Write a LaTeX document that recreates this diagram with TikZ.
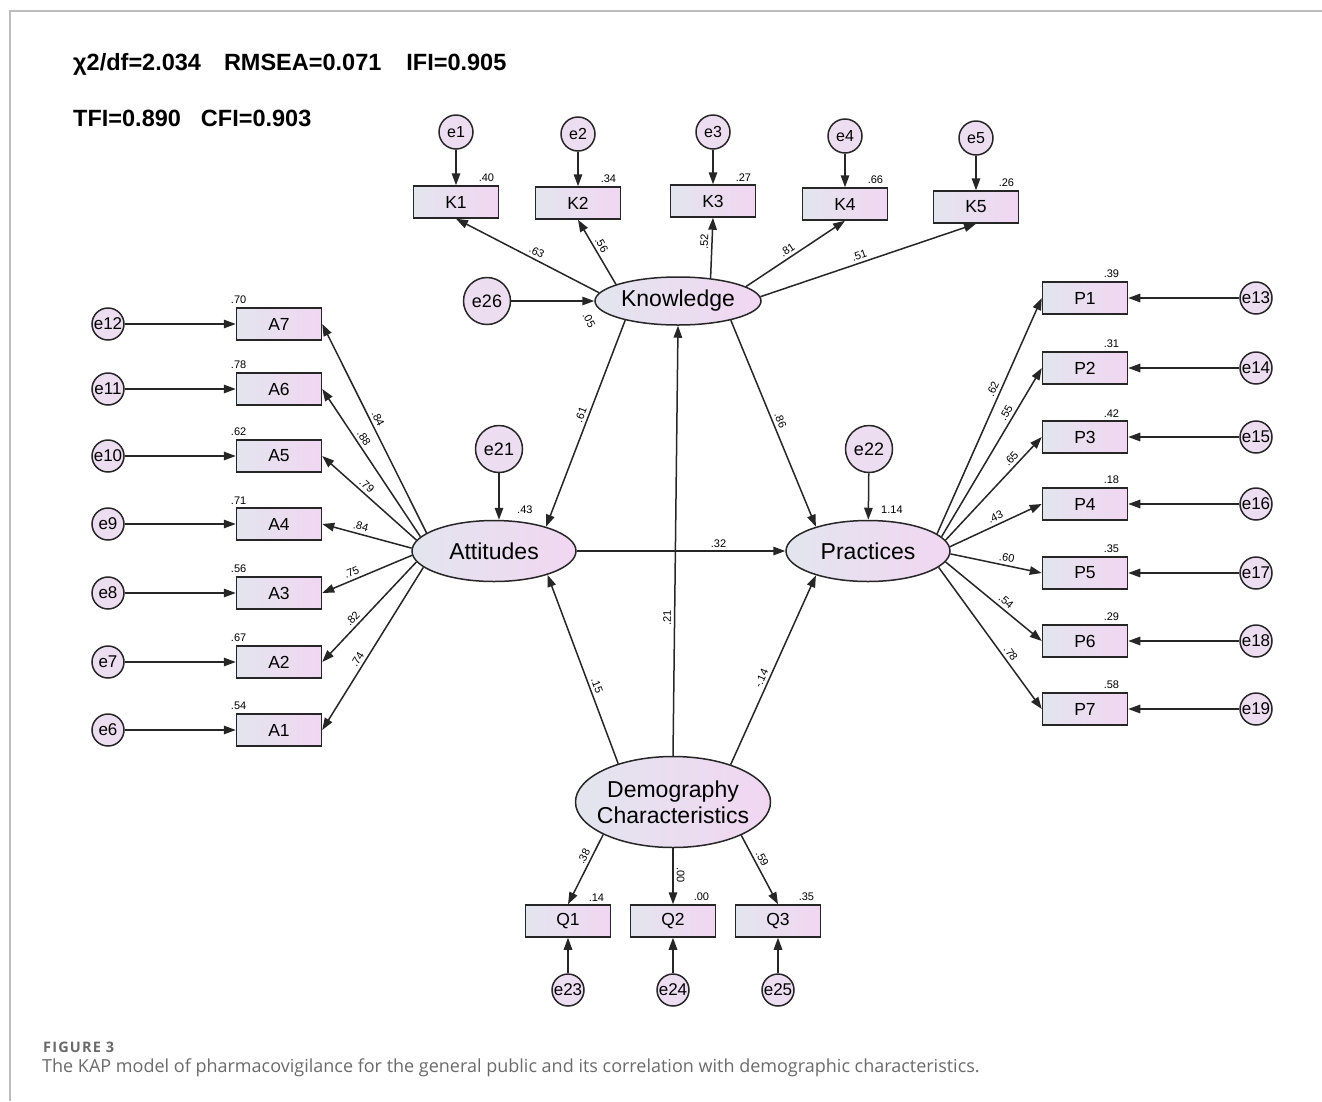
\documentclass[tikz,border=0pt]{standalone}
\usepackage{fontspec}
\setmainfont{Liberation Sans}
\newfontfamily\capfont{Open Sans}
\usetikzlibrary{shapes.geometric, arrows.meta}
\definecolor{fillL}{HTML}{E3E5EE}
\definecolor{fillR}{HTML}{F1D6F2}
\definecolor{errfill}{HTML}{EDDDF1}
\definecolor{inkgray}{HTML}{262626}
\definecolor{framegray}{HTML}{BDBDBD}
\definecolor{capgray}{HTML}{6A6A6A}
\tikzset{
    latent/.style={
        ellipse, draw=inkgray, line width=1.5pt, left color=fillL, right color=fillR,
        inner sep=0pt, align=center, font=\fontsize{23}{26}\selectfont
    },
    box/.style={
        rectangle, draw=inkgray, line width=1.5pt, left color=fillL, right color=fillR,
        minimum width=85pt, minimum height=32pt, inner sep=0pt,
        font=\fontsize{17.5}{18}\selectfont
    },
    err/.style={
        circle, draw=inkgray, line width=1.5pt, fill=errfill, inner sep=-5pt,
        minimum size=32pt, font=\fontsize{17}{17}\selectfont
    },
    bigerr/.style={
        err, minimum size=47pt, font=\fontsize{18}{18}\selectfont
    },
    mm/.style={
        -{Triangle[length=12pt, width=8.5pt]}, line width=1.5pt, draw=inkgray
    },
    val/.style={
        font=\fontsize{11}{11}\selectfont, inner sep=3pt
    },
    coef/.style={
        font=\fontsize{11}{11}\selectfont, inner sep=3pt, sloped
    },
    hdr/.style={
        anchor=west, inner sep=0pt, font=\bfseries\fontsize{23.5}{24}\selectfont
    }
}

\begin{document}
\begin{tikzpicture}[x=1pt, y=-1pt]
        \useasboundingbox (0,0) rectangle (1322,1101);
        % \draw[help lines, step=50] (0,0) grid (1322,1101);
        \draw[framegray, line width=1.6pt] (10,1101) -- (10,11) -- (1322,11);

        % fit indices

        \node[hdr] (fitA) at (73,64)  {χ2/df=2.034\hspace{23pt}RMSEA=0.071\hspace{25pt}IFI=0.905};
        \node[hdr] (fitB) at (73,118) {TFI=0.890\hspace{20pt}CFI=0.903};

        % latent variables

        \node[latent, minimum width=166pt, minimum height=48pt] (kno) at (678,301) {Knowledge};
        \node[latent, minimum width=164pt, minimum height=61pt,
              label={[val, anchor=south west, xshift=20pt, yshift=3pt]north:.43}] (att) at (494,551) {Attitudes};
        \node[latent, minimum width=164pt, minimum height=61pt,
              label={[val, anchor=south west, xshift=10pt, yshift=3pt]north:1.14}] (pra) at (868,551) {Practices};
        \node[latent, minimum width=195pt, minimum height=91pt, inner sep=-10pt] (dem) at (673,802) {Demography\\Characteristics};

        \node[bigerr] (e26) at (487,301) {e26};
        \node[bigerr] (e21) at (499,449) {e21};
        \node[bigerr] (e22) at (869,449) {e22};
        \node[val, rotate=-62] (r2k) at (589,320) {.05};

        % Knowledge items

        \node[box, label={[val, anchor=south east, xshift=-2pt]north east:.40}] (K1) at (456,202) {K1};
        \node[box, label={[val, anchor=south east, xshift=-2pt]north east:.34}] (K2) at (578,203) {K2};
        \node[box, label={[val, anchor=south east, xshift=-2pt]north east:.27}] (K3) at (713,201) {K3};
        \node[box, label={[val, anchor=south east, xshift=-2pt]north east:.66}] (K4) at (845,204) {K4};
        \node[box, label={[val, anchor=south east, xshift=-2pt]north east:.26}] (K5) at (976,207) {K5};

        \node[err, minimum size=34pt, font=\fontsize{16}{16}\selectfont] (e1) at (456,132) {e1};
        \node[err, minimum size=34pt, font=\fontsize{16}{16}\selectfont] (e2) at (578,134) {e2};
        \node[err, minimum size=34pt, font=\fontsize{16}{16}\selectfont] (e3) at (713,132) {e3};
        \node[err, minimum size=34pt, font=\fontsize{16}{16}\selectfont] (e4) at (845,136) {e4};
        \node[err, minimum size=34pt, font=\fontsize{16}{16}\selectfont] (e5) at (976,138) {e5};

        \path (e1) edge[mm] (K1)
                (e2) edge[mm] (K2)
                (e3) edge[mm] (K3)
                (e4) edge[mm] (K4)
                (e5) edge[mm] (K5)
                (e26) edge[mm] (kno)
                (kno.174) edge[mm] node[coef, pos=.46, above] (lk1) {.63} (K1.south)
                (kno.165) edge[mm] node[coef, pos=.55, above] (lk2) {.56} (K2.south)
                (kno.35) edge[mm] node[coef, pos=.6, above] (lk3) {.52} (K3.south)
                (kno.12) edge[mm] node[coef, pos=.46, above] (lk4) {.81} (K4.south)
                (kno.3) edge[mm] node[coef, pos=.47, above] (lk5) {.51} (K5.south);

        % Attitude items

        \node[box, label={[val, anchor=south west, xshift=-8pt]north west:.70}] (A7) at (279,324) {A7};
        \node[box, label={[val, anchor=south west, xshift=-8pt]north west:.78}] (A6) at (279,389) {A6};
        \node[box, label={[val, anchor=south west, xshift=-8pt]north west:.62}] (A5) at (279,456) {A5};
        \node[box, label={[val, anchor=south west, xshift=-8pt]north west:.71}] (A4) at (279,524) {A4};
        \node[box, label={[val, anchor=south west, xshift=-8pt]north west:.56}] (A3) at (279,593) {A3};
        \node[box, label={[val, anchor=south west, xshift=-8pt]north west:.67}] (A2) at (279,662) {A2};
        \node[box, label={[val, anchor=south west, xshift=-8pt]north west:.54}] (A1) at (279,730) {A1};

        \node[err] (e12) at (108,324) {e12};
        \node[err] (e11) at (108,389) {e11};
        \node[err] (e10) at (108,456) {e10};
        \node[err] (e9)  at (108,524) {e9};
        \node[err] (e8)  at (108,593) {e8};
        \node[err] (e7)  at (108,662) {e7};
        \node[err] (e6)  at (108,730) {e6};

        \path (e12) edge[mm] (A7)
                (e11) edge[mm] (A6)
                (e10) edge[mm] (A5)
                (e9) edge[mm] (A4)
                (e8) edge[mm] (A3)
                (e7) edge[mm] (A2)
                (e6) edge[mm] (A1)
                (att.165) edge[mm] node[coef, pos=.53, above] (la7) {.84} (A7.east)
                (att.169) edge[mm] node[coef, pos=.64, above] (la6) {.88} (A6.east)
                (att.172) edge[mm] node[coef, pos=.58, above] (la5) {.79} (A5.east)
                (att.178) edge[mm] node[coef, pos=.59, above] (la4) {.84} (A4.east)
                (att.183) edge[mm] node[coef, pos=.64, above] (la3) {.75} (A3.east)
                (att.188) edge[mm] node[coef, pos=.62, above] (la2) {.82} (A2.east)
                (att.193) edge[mm] node[coef, pos=.59, above] (la1) {.74} (A1.east);

        % Practice items

        \node[box, label={[val, anchor=south east, xshift=-6pt]north east:.39}] (P1) at (1085,298) {P1};
        \node[box, label={[val, anchor=south east, xshift=-6pt]north east:.31}] (P2) at (1085,368) {P2};
        \node[box, label={[val, anchor=south east, xshift=-6pt]north east:.42}] (P3) at (1085,437) {P3};
        \node[box, label={[val, anchor=south east, xshift=-6pt]north east:.18}] (P4) at (1085,504) {P4};
        \node[box, label={[val, anchor=south east, xshift=-6pt]north east:.35}] (P5) at (1085,573) {P5};
        \node[box, label={[val, anchor=south east, xshift=-6pt]north east:.29}] (P6) at (1085,641) {P6};
        \node[box, label={[val, anchor=south east, xshift=-6pt]north east:.58}] (P7) at (1085,709) {P7};

        \node[err] (e13) at (1256,298) {e13};
        \node[err] (e14) at (1256,368) {e14};
        \node[err] (e15) at (1256,437) {e15};
        \node[err] (e16) at (1256,504) {e16};
        \node[err] (e17) at (1256,573) {e17};
        \node[err] (e18) at (1256,641) {e18};
        \node[err] (e19) at (1256,709) {e19};

        \path (e13) edge[mm] (P1)
                (e14) edge[mm] (P2)
                (e15) edge[mm] (P3)
                (e16) edge[mm] (P4)
                (e17) edge[mm] (P5)
                (e18) edge[mm] (P6)
                (e19) edge[mm] (P7)
                (pra.14) edge[mm] node[coef, pos=.6, above] (lp1) {.62} (P1.west)
                (pra.11) edge[mm] node[coef, pos=.71, above] (lp2) {.55} (P2.west)
                (pra.8) edge[mm] node[coef, pos=.74, above] (lp3) {.65} (P3.west)
                (pra.3) edge[mm] node[coef, pos=.53, above] (lp4) {.43} (P4.west)
                (pra.358) edge[mm] node[coef, pos=.6, above] (lp5) {.60} (P5.west)
                (pra.352) edge[mm] node[coef, pos=.58, above] (lp6) {.54} (P6.west)
                (pra.347) edge[mm] node[coef, pos=.64, above] (lp7) {.78} (P7.west);

        % structural paths

        \path (kno.200) edge[mm] node[coef, pos=.47, above] (lka) {.61} (att.25)
                (kno.340) edge[mm] node[coef, pos=.5, above] (lkp) {.86} (pra.155)
                (att.east) edge[mm] node[coef, pos=.68, above] (lap) {.32} (pra.west)
                (dem.north) edge[mm] node[coef, pos=.32, above] (ldk) {.21} (kno.south)
                (dem.145) edge[mm] node[coef, pos=.4, above] (lda) {.15} (att.336)
                (dem.33) edge[mm] node[coef, pos=.44, above] (ldp) {-.14} (pra.205)
                (e21.south) edge[mm] (e21.south |- att.north)
                (e22) edge[mm] (pra);

        % Demography items

        \node[box, label={[val, anchor=south east, xshift=-4pt]north east:.14}] (Q1) at (568,921) {Q1};
        \node[box, label={[val, anchor=south east, xshift=-4pt]north east:.00}] (Q2) at (673,921) {Q2};
        \node[box, label={[val, anchor=south east, xshift=-4pt]north east:.35}] (Q3) at (778,921) {Q3};

        \node[err] (e23) at (568,990) {e23};
        \node[err] (e24) at (673,990) {e24};
        \node[err] (e25) at (778,990) {e25};

        \path (dem.205) edge[mm] node[coef, pos=.36, above] (lq1) {.38} (Q1.north)
                (dem.south) edge[mm] node[coef, pos=.48, above] (lq2) {.00} (Q2.north)
                (dem.334) edge[mm] node[coef, pos=.39, above] (lq3) {.59} (Q3.north)
                (e23) edge[mm] (Q1)
                (e24) edge[mm] (Q2)
                (e25) edge[mm] (Q3);

        % caption

        \node[anchor=west, inner sep=0pt, text=capgray, font=\capfont\bfseries\fontsize{14.5}{15}\selectfont\addfontfeatures{LetterSpace=8}] (capA) at (43,1047) {FIGURE 3};
        \node[anchor=west, inner sep=0pt, text=capgray, font=\capfont\fontsize{18}{19}\selectfont] (capB) at (42,1068) {The KAP model of pharmacovigilance for the general public and its correlation with demographic characteristics.};
\end{tikzpicture}
\end{document}
